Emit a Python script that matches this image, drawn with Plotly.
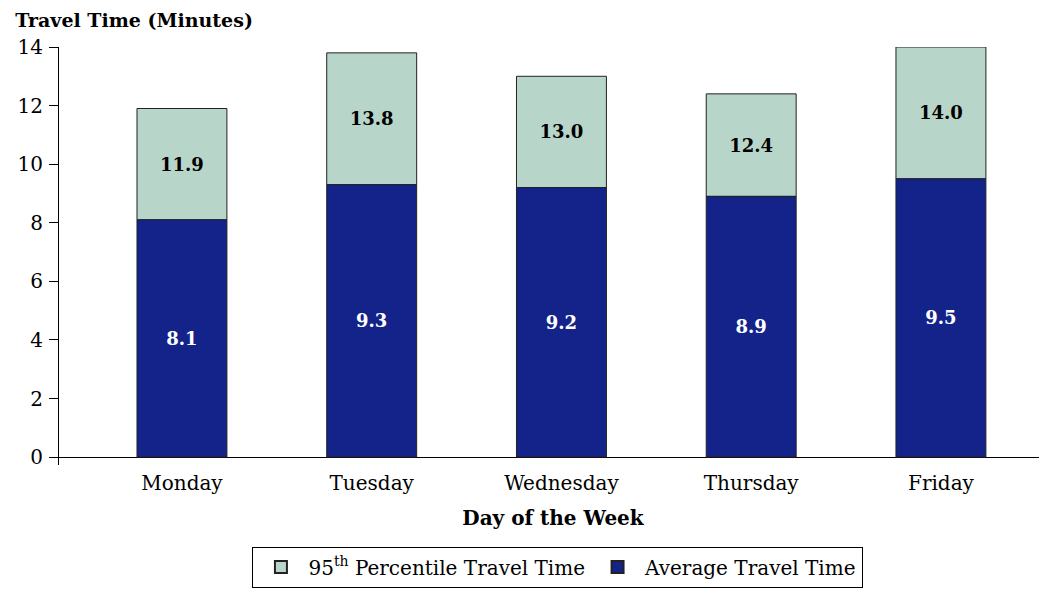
import plotly.graph_objects as go

days = ["Monday", "Tuesday", "Wednesday", "Thursday", "Friday"]
avg_time = [8.1, 9.3, 9.2, 8.9, 9.5]
p95_time = [11.9, 13.8, 13.0, 12.4, 14.0]

serif = "DejaVu Serif, Liberation Serif, serif"
light = "#b8d5c9"
dark = "#13238a"
edge = "#222222"

fig = go.Figure()

# 95th percentile bar sits on top of the average bar
fig.add_trace(
    go.Bar(
        name="95<sup>th</sup> Percentile Travel Time",
        x=days,
        y=[p - a for p, a in zip(p95_time, avg_time)],
        base=avg_time,
        text=["<b>%.1f</b>" % v for v in p95_time],
        textposition="inside",
        insidetextanchor="middle",
        textfont=dict(color="black", size=18, family=serif),
        marker=dict(color=light, line=dict(color=edge, width=1)),
        width=0.474,
    )
)
fig.add_trace(
    go.Bar(
        name="Average Travel Time",
        x=days,
        y=avg_time,
        text=["<b>%.1f</b>" % v for v in avg_time],
        textposition="inside",
        insidetextanchor="middle",
        textfont=dict(color="white", size=18, family=serif),
        marker=dict(color=dark, line=dict(color=edge, width=1)),
        width=0.474,
    )
)

# the page body has an 8px margin, so the figure is a bit smaller than the window
fig.update_layout(
    width=1039,
    height=585,
    barmode="overlay",
    plot_bgcolor="white",
    paper_bgcolor="white",
    font=dict(family=serif, size=20, color="black"),
    margin=dict(l=51, r=0, t=39, b=128),
    uniformtext=dict(mode="show", minsize=10),
    title=dict(
        text="<b>Travel Time (Minutes)</b>",
        x=0.007,
        xanchor="left",
        y=0.979,
        yanchor="middle",
        font=dict(size=19),
    ),
    legend=dict(
        orientation="h",
        x=0.505,
        xanchor="center",
        y=-0.195,
        yanchor="top",
        bordercolor="black",
        borderwidth=1,
        font=dict(size=20),
        itemsizing="constant",
        itemwidth=45,
        traceorder="normal",
    ),
    showlegend=True,
)

fig.update_xaxes(
    range=[-0.648, 4.559],
    automargin=False,
    showline=False,
    showgrid=False,
    ticks="",
    ticklabelstandoff=4,
    title=dict(text="<b>Day of the Week</b>", font=dict(size=20), standoff=16),
    tickfont=dict(size=20),
)
fig.update_yaxes(
    range=[-0.27, 14],
    automargin=False,
    tickvals=[0, 2, 4, 6, 8, 10, 12, 14],
    showline=True,
    linecolor="black",
    linewidth=1,
    showgrid=False,
    zeroline=True,
    zerolinecolor="black",
    zerolinewidth=1,
    ticks="outside",
    ticklen=9,
    tickcolor="black",
    ticklabelstandoff=2,
    tickfont=dict(size=20),
)

fig.write_html("out.html")
